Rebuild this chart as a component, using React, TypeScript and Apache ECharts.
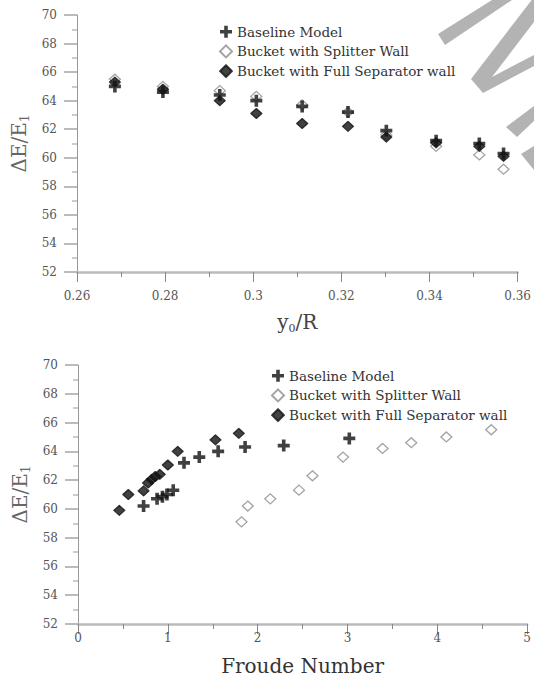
import React, { useEffect, useRef } from "react";
import * as echarts from "echarts";

// ---- Top chart data (x = y0/R) ----
const topX = [0.2686, 0.2795, 0.2924, 0.3007, 0.3111, 0.3215, 0.3302, 0.3415, 0.3513, 0.3568];
const topBaseline = [65.0, 64.6, 64.4, 64.0, 63.6, 63.2, 61.9, 61.2, 61.0, 60.3];
const topSplitter = [65.5, 65.0, 64.7, 64.3, 63.7, 63.2, 61.6, 60.8, 60.2, 59.2];
const topFull = [65.3, 64.8, 64.0, 63.1, 62.4, 62.2, 61.45, 61.05, 60.8, 60.1];

// ---- Bottom chart data (x = Froude Number) ----
const baselineFr = [0.73, 0.88, 0.94, 0.99, 1.06, 1.18, 1.35, 1.56, 1.86, 2.29, 3.02];
const baselineE = [60.2, 60.7, 60.85, 61.0, 61.3, 63.2, 63.6, 64.0, 64.3, 64.4, 64.9];
const splitterFr = [1.82, 1.89, 2.14, 2.46, 2.61, 2.95, 3.39, 3.71, 4.1, 4.6];
const splitterE = [59.1, 60.2, 60.7, 61.3, 62.3, 63.6, 64.2, 64.6, 65.0, 65.5];
const fullFr = [0.46, 0.56, 0.73, 0.78, 0.82, 0.86, 0.91, 1.0, 1.11, 1.53, 1.79];
const fullE = [59.9, 61.0, 61.25, 61.8, 62.05, 62.25, 62.4, 63.05, 64.0, 64.8, 65.25];

const seriesNames = ["Baseline Model", "Bucket with Splitter Wall", "Bucket with Full Separator wall"];

const FONT = "DejaVu Serif";
const PLUS = "path://M3.5,0H6.5V3.5H10V6.5H6.5V10H3.5V6.5H0V3.5H3.5Z";

const zip = (xs: number[], ys: number[]) => xs.map((x, i) => [x, ys[i]]);

export default function App() {
  const ref = useRef<HTMLDivElement>(null);
  useEffect(() => {
    if (!ref.current) return;
    const chart = echarts.init(ref.current, null, { renderer: "svg" });

    const yAxisBase = (gridIndex: number) => ({
      type: "value",
      gridIndex,
      min: 52,
      max: 70,
      interval: 2,
      name: "{a|ΔE/E}{b|1}",
      nameLocation: "middle",
      nameGap: 44,
      nameTextStyle: {
        rich: {
          a: { fontFamily: FONT, fontSize: 20, color: "#666", lineHeight: 24 },
          b: { fontFamily: FONT, fontSize: 12, color: "#666", lineHeight: 24, verticalAlign: "bottom", padding: [10, 0, 0, 0] },
        },
      },
      axisLine: { show: true, lineStyle: { color: "#999", width: 1 } },
      axisTick: { show: true, length: 13, lineStyle: { color: "#bbb", width: 2 } },
      minorTick: { show: true, splitNumber: 2, length: 5, lineStyle: { color: "#bbb", width: 1.5 } },
      axisLabel: { margin: 20, fontFamily: FONT, fontSize: 12, color: "#555" },
      splitLine: { show: false },
    });

    const markerStyles = {
      baseline: { symbol: PLUS, symbolSize: 12, itemStyle: { color: "#111" } },
      splitter: { symbol: "diamond", symbolSize: [11, 10], itemStyle: { color: "#fff", borderColor: "#8c8c8c", borderWidth: 1.3 } },
      full: { symbol: "diamond", symbolSize: [11, 10], itemStyle: { color: "#111", borderColor: "#111", borderWidth: 1.2, borderJoin: "round" } },
    };

    const legendCommon = {
      orient: "vertical",
      itemWidth: 12,
      itemHeight: 12,
      itemGap: 3.7,
      data: seriesNames,
      selectedMode: false,
      textStyle: { fontFamily: FONT, fontSize: 13.5, color: "#333", lineHeight: 16 },
    };

    const option = {
      animation: false,
      backgroundColor: "#fff",
      grid: [
        { left: 77, top: 15, width: 441, height: 257 },
        { left: 78, top: 365, width: 450, height: 259 },
      ],
      legend: [
        { ...legendCommon, left: 214, top: 18.7 },
        { ...legendCommon, left: 266, top: 362.7 },
      ],
      xAxis: [
        {
          type: "value",
          gridIndex: 0,
          min: 0.26,
          max: 0.36,
          interval: 0.02,
          name: "{a|y}{b|0}{a|/R}",
          nameLocation: "middle",
          nameGap: 38,
          nameTextStyle: {
            rich: {
              a: { fontFamily: FONT, fontSize: 20, color: "#444", lineHeight: 24 },
              b: { fontFamily: FONT, fontSize: 11, color: "#444", lineHeight: 24, verticalAlign: "bottom", padding: [10, 0, 0, 0] },
            },
          },
          axisLine: { show: true, lineStyle: { color: "#bbb", width: 2.5 } },
          axisTick: { show: true, length: 10, lineStyle: { color: "#888", width: 1 } },
          minorTick: { show: true, splitNumber: 2, length: 5, lineStyle: { color: "#888", width: 1 } },
          axisLabel: { margin: 18, fontFamily: FONT, fontSize: 12, color: "#555", formatter: (v: number) => String(Math.round(v * 100) / 100) },
          splitLine: { show: false },
        },
        {
          type: "value",
          gridIndex: 1,
          min: 0,
          max: 5,
          interval: 1,
          name: "Froude Number",
          nameLocation: "middle",
          nameGap: 32,
          nameTextStyle: { fontFamily: FONT, fontSize: 20, color: "#333" },
          axisLine: { show: true, lineStyle: { color: "#bbb", width: 2.5 } },
          axisTick: { show: true, length: 10, lineStyle: { color: "#888", width: 1 } },
          minorTick: { show: true, splitNumber: 2, length: 5, lineStyle: { color: "#888", width: 1 } },
          axisLabel: { margin: 8, fontFamily: FONT, fontSize: 12, color: "#555" },
          splitLine: { show: false },
        },
      ],
      yAxis: [yAxisBase(0), yAxisBase(1)],
      series: [
        { type: "scatter", name: seriesNames[1], xAxisIndex: 0, yAxisIndex: 0, data: zip(topX, topSplitter), ...markerStyles.splitter, z: 2 },
        { type: "scatter", name: seriesNames[2], xAxisIndex: 0, yAxisIndex: 0, data: zip(topX, topFull), ...markerStyles.full, z: 3 },
        { type: "scatter", name: seriesNames[0], xAxisIndex: 0, yAxisIndex: 0, data: zip(topX, topBaseline), ...markerStyles.baseline, z: 4 },
        { type: "scatter", name: seriesNames[1], xAxisIndex: 1, yAxisIndex: 1, data: zip(splitterFr, splitterE), ...markerStyles.splitter, z: 2 },
        { type: "scatter", name: seriesNames[2], xAxisIndex: 1, yAxisIndex: 1, data: zip(fullFr, fullE), ...markerStyles.full, z: 3 },
        { type: "scatter", name: seriesNames[0], xAxisIndex: 1, yAxisIndex: 1, data: zip(baselineFr, baselineE), ...markerStyles.baseline, z: 4 },
      ],
      graphic: [
        { type: "polygon", z: 100, shape: { points: [[438, 34], [445, 45], [512, 0], [492, 0]] }, style: { fill: "#b3b3b3" } },
        { type: "polygon", z: 100, shape: { points: [[534, -3], [471, 79], [483, 93], [534, 66], [534, 55], [492, 77], [534, 22]] }, style: { fill: "#b3b3b3" } },
        { type: "polygon", z: 100, shape: { points: [[506, 127], [517, 137], [534, 121], [534, 106]] }, style: { fill: "#b3b3b3" } },
        { type: "polygon", z: 100, shape: { points: [[521, 154], [534, 146], [534, 170]] }, style: { fill: "#b3b3b3" } },
      ],
    };

    chart.setOption(option as any);
    return () => chart.dispose();
  }, []);

  return <div ref={ref} style={{ position: "absolute", left: 0, top: 0, width: 534, height: 681 }} />;
}
